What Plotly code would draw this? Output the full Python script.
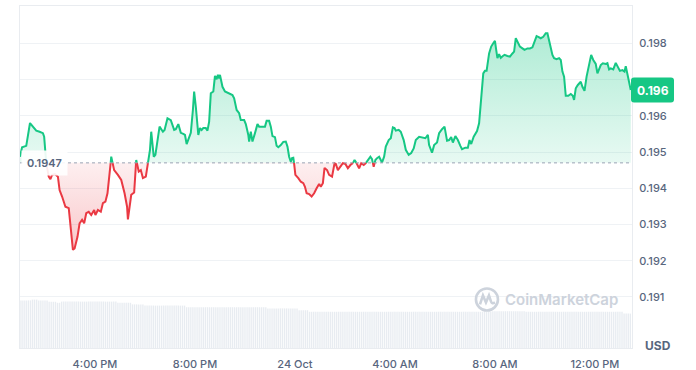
import numpy as np
import pandas as pd
import plotly.graph_objects as go

# ---------------- data ----------------
TIMES = [
    "2024-10-23 13:00", "2024-10-23 13:05", "2024-10-23 13:15", "2024-10-23 13:24", "2024-10-23 13:31",
    "2024-10-23 13:39", "2024-10-23 13:47", "2024-10-23 13:55", "2024-10-23 13:58", "2024-10-23 14:03",
    "2024-10-23 14:09", "2024-10-23 14:13", "2024-10-23 14:17", "2024-10-23 14:24", "2024-10-23 14:31",
    "2024-10-23 14:35", "2024-10-23 14:41", "2024-10-23 14:49", "2024-10-23 14:57", "2024-10-23 15:02",
    "2024-10-23 15:07", "2024-10-23 15:11", "2024-10-23 15:18", "2024-10-23 15:23", "2024-10-23 15:29",
    "2024-10-23 15:34", "2024-10-23 15:39", "2024-10-23 15:45", "2024-10-23 15:51", "2024-10-23 15:58",
    "2024-10-23 16:01", "2024-10-23 16:07", "2024-10-23 16:14", "2024-10-23 16:19", "2024-10-23 16:25",
    "2024-10-23 16:30", "2024-10-23 16:34", "2024-10-23 16:39", "2024-10-23 16:46", "2024-10-23 16:55",
    "2024-10-23 17:03", "2024-10-23 17:11", "2024-10-23 17:17", "2024-10-23 17:19", "2024-10-23 17:23",
    "2024-10-23 17:27", "2024-10-23 17:34", "2024-10-23 17:39", "2024-10-23 17:45", "2024-10-23 17:50",
    "2024-10-23 17:55", "2024-10-23 18:02", "2024-10-23 18:07", "2024-10-23 18:12", "2024-10-23 18:15",
    "2024-10-23 18:21", "2024-10-23 18:25", "2024-10-23 18:35", "2024-10-23 18:43", "2024-10-23 18:47",
    "2024-10-23 18:54", "2024-10-23 19:02", "2024-10-23 19:10", "2024-10-23 19:14", "2024-10-23 19:20",
    "2024-10-23 19:26", "2024-10-23 19:32", "2024-10-23 19:36", "2024-10-23 19:40", "2024-10-23 19:44",
    "2024-10-23 19:50", "2024-10-23 19:55", "2024-10-23 19:58", "2024-10-23 20:02", "2024-10-23 20:08",
    "2024-10-23 20:12", "2024-10-23 20:16", "2024-10-23 20:20", "2024-10-23 20:26", "2024-10-23 20:30",
    "2024-10-23 20:34", "2024-10-23 20:38", "2024-10-23 20:44", "2024-10-23 20:48", "2024-10-23 20:52",
    "2024-10-23 20:55", "2024-10-23 20:58", "2024-10-23 21:00", "2024-10-23 21:06", "2024-10-23 21:12",
    "2024-10-23 21:20", "2024-10-23 21:30", "2024-10-23 21:34", "2024-10-23 21:40", "2024-10-23 21:46",
    "2024-10-23 21:50", "2024-10-23 21:58", "2024-10-23 22:02", "2024-10-23 22:08", "2024-10-23 22:10",
    "2024-10-23 22:14", "2024-10-23 22:18", "2024-10-23 22:24", "2024-10-23 22:30", "2024-10-23 22:34",
    "2024-10-23 22:42", "2024-10-23 22:48", "2024-10-23 22:52", "2024-10-23 22:58", "2024-10-23 23:02",
    "2024-10-23 23:06", "2024-10-23 23:12", "2024-10-23 23:16", "2024-10-23 23:20", "2024-10-23 23:26",
    "2024-10-23 23:32", "2024-10-23 23:38", "2024-10-23 23:42", "2024-10-23 23:46", "2024-10-23 23:50",
    "2024-10-23 23:53", "2024-10-23 23:56", "2024-10-23 23:58",
    "2024-10-24 00:01", "2024-10-24 00:08", "2024-10-24 00:14", "2024-10-24 00:20", "2024-10-24 00:24",
    "2024-10-24 00:28", "2024-10-24 00:34", "2024-10-24 00:40", "2024-10-24 00:46", "2024-10-24 00:52",
    "2024-10-24 00:58", "2024-10-24 01:02", "2024-10-24 01:07", "2024-10-24 01:11", "2024-10-24 01:17",
    "2024-10-24 01:22", "2024-10-24 01:29", "2024-10-24 01:35", "2024-10-24 01:38", "2024-10-24 01:43",
    "2024-10-24 01:49", "2024-10-24 01:55", "2024-10-24 02:01", "2024-10-24 02:07", "2024-10-24 02:13",
    "2024-10-24 02:18", "2024-10-24 02:23", "2024-10-24 02:29", "2024-10-24 02:34", "2024-10-24 02:39",
    "2024-10-24 02:45", "2024-10-24 02:50", "2024-10-24 02:57", "2024-10-24 03:01", "2024-10-24 03:05",
    "2024-10-24 03:09", "2024-10-24 03:13", "2024-10-24 03:17", "2024-10-24 03:22", "2024-10-24 03:29",
    "2024-10-24 03:34", "2024-10-24 03:38", "2024-10-24 03:45", "2024-10-24 03:50", "2024-10-24 03:55",
    "2024-10-24 03:59", "2024-10-24 04:02", "2024-10-24 04:09", "2024-10-24 04:14", "2024-10-24 04:21",
    "2024-10-24 04:26", "2024-10-24 04:33", "2024-10-24 04:39", "2024-10-24 04:45", "2024-10-24 04:50",
    "2024-10-24 04:58", "2024-10-24 05:05", "2024-10-24 05:13", "2024-10-24 05:19", "2024-10-24 05:22",
    "2024-10-24 05:29", "2024-10-24 05:34", "2024-10-24 05:41", "2024-10-24 05:46", "2024-10-24 05:53",
    "2024-10-24 05:59", "2024-10-24 06:05", "2024-10-24 06:10", "2024-10-24 06:15", "2024-10-24 06:19",
    "2024-10-24 06:25", "2024-10-24 06:31", "2024-10-24 06:37", "2024-10-24 06:41", "2024-10-24 06:49",
    "2024-10-24 06:55", "2024-10-24 06:59", "2024-10-24 07:03", "2024-10-24 07:09", "2024-10-24 07:17",
    "2024-10-24 07:22", "2024-10-24 07:27", "2024-10-24 07:32", "2024-10-24 07:36", "2024-10-24 07:40",
    "2024-10-24 07:46", "2024-10-24 07:51", "2024-10-24 07:56", "2024-10-24 08:00", "2024-10-24 08:03",
    "2024-10-24 08:06", "2024-10-24 08:10", "2024-10-24 08:14", "2024-10-24 08:19", "2024-10-24 08:23",
    "2024-10-24 08:30", "2024-10-24 08:36", "2024-10-24 08:42", "2024-10-24 08:46", "2024-10-24 08:50",
    "2024-10-24 08:55", "2024-10-24 09:00", "2024-10-24 09:06", "2024-10-24 09:11", "2024-10-24 09:18",
    "2024-10-24 09:24", "2024-10-24 09:30", "2024-10-24 09:35", "2024-10-24 09:40", "2024-10-24 09:44",
    "2024-10-24 09:50", "2024-10-24 09:56", "2024-10-24 10:02", "2024-10-24 10:06", "2024-10-24 10:12",
    "2024-10-24 10:18", "2024-10-24 10:22", "2024-10-24 10:28", "2024-10-24 10:34", "2024-10-24 10:38",
    "2024-10-24 10:42", "2024-10-24 10:46", "2024-10-24 10:50", "2024-10-24 10:56", "2024-10-24 11:02",
    "2024-10-24 11:07", "2024-10-24 11:10", "2024-10-24 11:14", "2024-10-24 11:19", "2024-10-24 11:26",
    "2024-10-24 11:30", "2024-10-24 11:35", "2024-10-24 11:40", "2024-10-24 11:46", "2024-10-24 11:51",
    "2024-10-24 11:56", "2024-10-24 12:02", "2024-10-24 12:06", "2024-10-24 12:10", "2024-10-24 12:14",
    "2024-10-24 12:19", "2024-10-24 12:26", "2024-10-24 12:30", "2024-10-24 12:34", "2024-10-24 12:38",
    "2024-10-24 12:44", "2024-10-24 12:50", "2024-10-24 12:55", "2024-10-24 13:00", "2024-10-24 13:06",
    "2024-10-24 13:11", "2024-10-24 13:14", "2024-10-24 13:18", "2024-10-24 13:22", "2024-10-24 13:26",
]

PRICES = [
    0.19487, 0.19513, 0.19517, 0.19580, 0.19570,
    0.19559, 0.19556, 0.19552, 0.19542, 0.19469,
    0.19432, 0.19425, 0.19437, 0.19439, 0.19432,
    0.19395, 0.19377, 0.19349, 0.19345, 0.19276,
    0.19230, 0.19234, 0.19266, 0.19303, 0.19313,
    0.19303, 0.19331, 0.19335, 0.19326, 0.19340,
    0.19326, 0.19340, 0.19335, 0.19359, 0.19363,
    0.19386, 0.19423, 0.19487, 0.19450, 0.19437,
    0.19423, 0.19386, 0.19349, 0.19314, 0.19349,
    0.19382, 0.19388, 0.19478, 0.19446, 0.19450,
    0.19428, 0.19432, 0.19469, 0.19506, 0.19556,
    0.19487, 0.19492, 0.19570, 0.19556, 0.19561,
    0.19593, 0.19588, 0.19561, 0.19563, 0.19577,
    0.19553, 0.19550, 0.19547, 0.19522, 0.19535,
    0.19553, 0.19616, 0.19667, 0.19625, 0.19547,
    0.19566, 0.19561, 0.19566, 0.19566, 0.19559,
    0.19584, 0.19662, 0.19667, 0.19710, 0.19701,
    0.19713, 0.19703, 0.19713, 0.19680, 0.19667,
    0.19662, 0.19657, 0.19648, 0.19616, 0.19607,
    0.19588, 0.19588, 0.19577, 0.19547, 0.19529,
    0.19556, 0.19529, 0.19552, 0.19577, 0.19570,
    0.19570, 0.19570, 0.19586, 0.19586, 0.19570,
    0.19544, 0.19541, 0.19517, 0.19513, 0.19519,
    0.19528, 0.19529, 0.19515, 0.19487, 0.19473,
    0.19483, 0.19484, 0.19468,
    0.19437, 0.19428, 0.19418, 0.19414, 0.19404,
    0.19386, 0.19384, 0.19377, 0.19386, 0.19400,
    0.19412, 0.19404, 0.19414, 0.19456, 0.19450,
    0.19437, 0.19432, 0.19469, 0.19467, 0.19450,
    0.19459, 0.19469, 0.19467, 0.19455, 0.19464,
    0.19467, 0.19478, 0.19467, 0.19455, 0.19469,
    0.19464, 0.19469, 0.19483, 0.19487, 0.19480,
    0.19459, 0.19478, 0.19483, 0.19487, 0.19471,
    0.19487, 0.19515, 0.19533, 0.19538, 0.19568,
    0.19566, 0.19559, 0.19561, 0.19556, 0.19533,
    0.19506, 0.19492, 0.19497, 0.19510, 0.19533,
    0.19542, 0.19541, 0.19538, 0.19547, 0.19519,
    0.19498, 0.19519, 0.19526, 0.19552, 0.19563,
    0.19570, 0.19531, 0.19533, 0.19541, 0.19526,
    0.19544, 0.19533, 0.19517, 0.19508, 0.19512,
    0.19512, 0.19533, 0.19522, 0.19542, 0.19558,
    0.19579, 0.19653, 0.19717, 0.19724, 0.19724,
    0.19772, 0.19791, 0.19800, 0.19807, 0.19782,
    0.19759, 0.19770, 0.19760, 0.19765, 0.19768,
    0.19765, 0.19763, 0.19772, 0.19777, 0.19814,
    0.19804, 0.19791, 0.19786, 0.19782, 0.19786,
    0.19786, 0.19789, 0.19804, 0.19820, 0.19818,
    0.19814, 0.19818, 0.19828, 0.19828, 0.19795,
    0.19768, 0.19759, 0.19756, 0.19759, 0.19754,
    0.19722, 0.19708, 0.19655, 0.19655, 0.19660,
    0.19655, 0.19644, 0.19676, 0.19685, 0.19694,
    0.19680, 0.19669, 0.19708, 0.19740, 0.19768,
    0.19754, 0.19743, 0.19717, 0.19728, 0.19740,
    0.19745, 0.19743, 0.19745, 0.19728, 0.19731,
    0.19728, 0.19746, 0.19735, 0.19724, 0.19726,
    0.19722, 0.19737, 0.19717, 0.19690, 0.19671,
]

BASE_PRICE = 0.1947
BASE_LABEL = "0.1947"

# volume (millions), piecewise by period start
VOL_SEG_START = [
    "2024-10-23 13:00", "2024-10-23 13:27", "2024-10-23 13:43", "2024-10-23 14:07",
    "2024-10-23 14:26", "2024-10-23 14:38", "2024-10-23 16:55", "2024-10-23 17:26",
    "2024-10-23 18:00", "2024-10-23 19:36", "2024-10-23 22:55", "2024-10-24 00:07",
    "2024-10-24 00:31", "2024-10-24 07:55", "2024-10-24 09:14", "2024-10-24 13:07",
]
VOL_SEG_VALUE = [23.8, 24.2, 23.8, 23.1, 22.6, 23.2, 22.6, 21.8,
                 21.2, 20.4, 19.8, 18.9, 18.1, 18.4, 18.1, 17.2]

X_TICKS = ["2024-10-23 16:00", "2024-10-23 20:00", "2024-10-24 00:00",
           "2024-10-24 04:00", "2024-10-24 08:00", "2024-10-24 12:00"]
X_TICK_TEXT = ["4:00 PM", "8:00 PM", "24 Oct", "4:00 AM", "8:00 AM", "12:00 PM"]

Y_TICKS = [0.191, 0.192, 0.193, 0.194, 0.195, 0.196, 0.197, 0.198]
Y_TICK_TEXT = ["0.191", "0.192", "0.193", "0.194", "0.195", "0.196", "", "0.198"]

X_RANGE = ["2024-10-23 13:00", "2024-10-24 13:29"]
Y_RANGE = [0.18959, 0.19903]

GREEN = "#16c784"
RED = "#ea3943"
TXT = "#58667e"
GRID = "#eff2f5"
FONT = "Inter, 'Noto Sans', sans-serif"

# ---------------- processing ----------------
t = pd.to_datetime(pd.Series(TIMES))
p = np.array(PRICES)

xs = [t.iloc[0]]
ys = [p[0]]
for i in range(1, len(p)):
    a = p[i - 1] - BASE_PRICE
    b = p[i] - BASE_PRICE
    if a * b < 0:
        f = a / (a - b)
        xs.append(t.iloc[i - 1] + (t.iloc[i] - t.iloc[i - 1]) * f)
        ys.append(BASE_PRICE)
    xs.append(t.iloc[i])
    ys.append(p[i])
ys = np.array(ys)

above = np.maximum(ys, BASE_PRICE)
below = np.minimum(ys, BASE_PRICE)
green_line = [y if y >= BASE_PRICE else None for y in ys]
red_line = [y if y <= BASE_PRICE else None for y in ys]

vol_t = pd.date_range("2024-10-23 13:00", "2024-10-24 13:25", freq="5min")
seg_t = pd.to_datetime(pd.Series(VOL_SEG_START)).values
idx = np.searchsorted(seg_t, vol_t.values, side="right") - 1
vol_v = np.array(VOL_SEG_VALUE)[idx]

fig = go.Figure()

fig.add_trace(go.Bar(x=vol_t, y=vol_v, yaxis="y2",
                     marker=dict(color="rgba(214,220,230,0.55)", line=dict(width=0)),
                     hoverinfo="skip", showlegend=False))

fig.add_trace(go.Scatter(x=xs, y=[BASE_PRICE] * len(xs), mode="lines",
                         line=dict(width=0), hoverinfo="skip", showlegend=False))
fig.add_trace(go.Scatter(x=xs, y=above, mode="lines", line=dict(width=0),
                         fill="tonexty",
                         fillgradient=dict(type="vertical",
                                           colorscale=[[0, "rgba(22,199,132,0.10)"],
                                                       [1, "rgba(22,199,132,0.34)"]],
                                           start=BASE_PRICE, stop=float(above.max())),
                         hoverinfo="skip", showlegend=False))
fig.add_trace(go.Scatter(x=xs, y=[BASE_PRICE] * len(xs), mode="lines",
                         line=dict(width=0), hoverinfo="skip", showlegend=False))
fig.add_trace(go.Scatter(x=xs, y=below, mode="lines", line=dict(width=0),
                         fill="tonexty",
                         fillgradient=dict(type="vertical",
                                           colorscale=[[0, "rgba(234,57,67,0.28)"],
                                                       [1, "rgba(234,57,67,0.08)"]],
                                           start=float(below.min()), stop=BASE_PRICE),
                         hoverinfo="skip", showlegend=False))

fig.add_trace(go.Scatter(x=xs, y=green_line, mode="lines",
                         line=dict(color=GREEN, width=2), connectgaps=False,
                         hoverinfo="skip", showlegend=False))
fig.add_trace(go.Scatter(x=xs, y=red_line, mode="lines",
                         line=dict(color=RED, width=2), connectgaps=False,
                         hoverinfo="skip", showlegend=False))

last_price = PRICES[-1]
badge_text = f"{np.floor(last_price * 1000) / 1000:.3f}"

WM = "#cdd3dc"
shapes = [
    dict(type="line", xref="paper", yref="y", x0=0, x1=1, y0=BASE_PRICE, y1=BASE_PRICE,
         line=dict(color="#9aa3b5", width=1, dash="dot"), layer="above"),
    dict(type="path", xref="paper", yref="y", xsizemode="pixel", ysizemode="pixel",
         xanchor=1, yanchor=last_price,
         path="M 2,-12.5 L 39,-12.5 Q 42,-12.5 42,-9.5 L 42,9.5 Q 42,12.5 39,12.5 "
              "L 2,12.5 Q -1,12.5 -1,9.5 L -1,-9.5 Q -1,-12.5 2,-12.5 Z",
         fillcolor=GREEN, line=dict(width=0), layer="above"),
    # watermark logo
    dict(type="circle", xref="paper", yref="paper", xsizemode="pixel", ysizemode="pixel",
         xanchor=0.763, yanchor=0.142, x0=-11, x1=11, y0=-11, y1=11,
         fillcolor="rgba(0,0,0,0)", line=dict(color=WM, width=2.6), layer="above"),
    dict(type="path", xref="paper", yref="paper", xsizemode="pixel", ysizemode="pixel",
         xanchor=0.763, yanchor=0.142,
         path="M -7,-5 L -4,4 L -1,-3 L 2,4 L 4,-2 Q 5,-5 8,-3",
         fillcolor="rgba(0,0,0,0)", line=dict(color=WM, width=2.6), layer="above"),
]

annotations = [
    dict(text=BASE_LABEL, xref="paper", yref="y", x=0, y=BASE_PRICE, xanchor="left",
         yanchor="middle", showarrow=False, bgcolor="rgba(255,255,255,0.9)",
         borderpad=5, xshift=1,
         font=dict(family=FONT, size=11, color=TXT, weight=600)),
    dict(text=badge_text, xref="paper", yref="y", x=1, y=last_price, xanchor="center",
         yanchor="middle", xshift=20.5, showarrow=False,
         font=dict(family=FONT, size=12, color="white", weight=700)),
    dict(text="USD", xref="paper", yref="paper", x=1, y=0.006, xanchor="left",
         yanchor="middle", xshift=11, showarrow=False,
         font=dict(family=FONT, size=12, color=TXT, weight=700)),
    dict(text="CoinMarketCap", xref="paper", yref="paper", x=0.8856, y=0.142,
         xanchor="center", yanchor="middle", showarrow=False,
         font=dict(family=FONT, size=15, color=WM, weight=600)),
]

fig.update_layout(
    width=696, height=370,
    margin=dict(l=20, r=64, t=6, b=22),
    paper_bgcolor="white", plot_bgcolor="white",
    showlegend=False, bargap=0.35, hovermode=False,
    font=dict(family=FONT, size=11, color=TXT),
    xaxis=dict(type="date", range=X_RANGE, tickvals=X_TICKS, ticktext=X_TICK_TEXT,
               showgrid=False, zeroline=False, showline=True, mirror=True,
               linecolor="#e9ecf0", linewidth=1, ticks="", ticklabelstandoff=6,
               automargin=False,
               tickfont=dict(family=FONT, size=11, color=TXT, weight=500)),
    yaxis=dict(range=Y_RANGE, side="right", tickvals=Y_TICKS, ticktext=Y_TICK_TEXT,
               showgrid=True, gridcolor=GRID, gridwidth=1, zeroline=False,
               showline=True, mirror=True, linecolor="#e9ecf0", linewidth=1,
               ticks="", ticklabelstandoff=4, automargin=False,
               tickfont=dict(family=FONT, size=11, color=TXT, weight=500)),
    yaxis2=dict(overlaying="y", range=[0, 171], visible=False, fixedrange=True,
                automargin=False),
    shapes=shapes,
    annotations=annotations,
)

fig.write_html("out.html", config={"displayModeBar": False},
               post_script="document.body.style.margin='0px';")
